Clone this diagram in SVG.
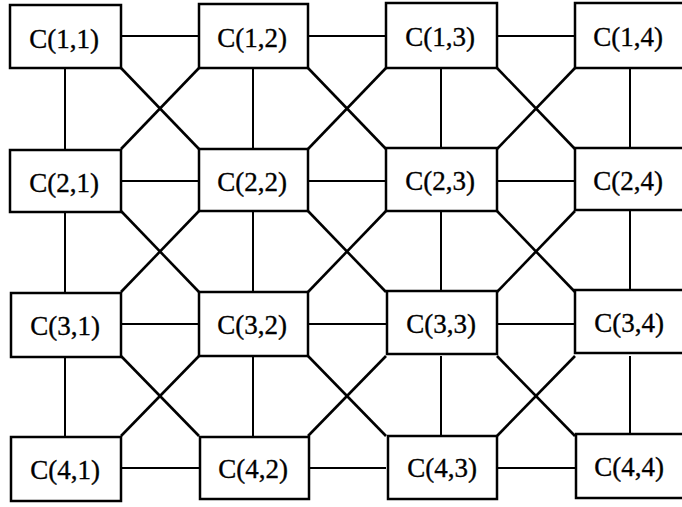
<svg xmlns="http://www.w3.org/2000/svg" width="682" height="507" viewBox="0 0 682 507">
<style>
rect{fill:#fff;stroke:#000;stroke-width:2.5}
text{font-family:"Liberation Serif","Times New Roman",serif;font-size:27px;fill:#000;stroke:#000;stroke-width:0.35;text-anchor:middle}
#connectors line{stroke:#000;stroke-width:2.6}
#connectors .hv{stroke-width:2}
</style>
<rect x="0" y="0" width="682" height="507" style="fill:#fff;stroke:none"/>
<g id="connectors">
<line class="hv" x1="121" y1="36" x2="199" y2="36"/>
<line class="hv" x1="308" y1="36" x2="386" y2="36"/>
<line class="hv" x1="497" y1="36" x2="575" y2="36"/>
<line class="hv" x1="121" y1="181" x2="199" y2="181"/>
<line class="hv" x1="308" y1="181" x2="386" y2="181"/>
<line class="hv" x1="497" y1="181" x2="575" y2="181"/>
<line class="hv" x1="121" y1="324" x2="199" y2="324"/>
<line class="hv" x1="308" y1="324" x2="386" y2="324"/>
<line class="hv" x1="497" y1="324" x2="575" y2="324"/>
<line class="hv" x1="121" y1="468" x2="199" y2="468"/>
<line class="hv" x1="308" y1="468" x2="386" y2="468"/>
<line class="hv" x1="497" y1="468" x2="575" y2="468"/>
<line class="hv" x1="65" y1="68" x2="65" y2="149"/>
<line class="hv" x1="253" y1="68" x2="253" y2="149"/>
<line class="hv" x1="441" y1="68" x2="441" y2="149"/>
<line class="hv" x1="630" y1="68" x2="630" y2="149"/>
<line class="hv" x1="65" y1="211" x2="65" y2="292"/>
<line class="hv" x1="253" y1="211" x2="253" y2="292"/>
<line class="hv" x1="441" y1="211" x2="441" y2="292"/>
<line class="hv" x1="630" y1="211" x2="630" y2="292"/>
<line class="hv" x1="65" y1="356" x2="65" y2="436"/>
<line class="hv" x1="253" y1="356" x2="253" y2="436"/>
<line class="hv" x1="441" y1="356" x2="441" y2="436"/>
<line class="hv" x1="630" y1="356" x2="630" y2="436"/>
<line x1="121" y1="68" x2="199" y2="149"/>
<line x1="199" y1="68" x2="121" y2="149"/>
<line x1="308" y1="68" x2="386" y2="149"/>
<line x1="386" y1="68" x2="308" y2="149"/>
<line x1="497" y1="68" x2="575" y2="149"/>
<line x1="575" y1="68" x2="497" y2="149"/>
<line x1="121" y1="211" x2="199" y2="292"/>
<line x1="199" y1="211" x2="121" y2="292"/>
<line x1="308" y1="211" x2="386" y2="292"/>
<line x1="386" y1="211" x2="308" y2="292"/>
<line x1="497" y1="211" x2="575" y2="292"/>
<line x1="575" y1="211" x2="497" y2="292"/>
<line x1="121" y1="356" x2="199" y2="436"/>
<line x1="199" y1="356" x2="121" y2="436"/>
<line x1="308" y1="356" x2="386" y2="436"/>
<line x1="386" y1="356" x2="308" y2="436"/>
<line x1="497" y1="356" x2="575" y2="436"/>
<line x1="575" y1="356" x2="497" y2="436"/>
</g>
<g id="C11"><rect x="10" y="5" width="111" height="63"/><text x="64" y="48">C(1,1)</text></g>
<g id="C12"><rect x="199" y="4" width="109" height="64"/><text x="252" y="47">C(1,2)</text></g>
<g id="C13"><rect x="386" y="3" width="111" height="65"/><text x="440" y="46">C(1,3)</text></g>
<g id="C14"><rect x="575" y="3" width="115" height="65"/><text x="628" y="46">C(1,4)</text></g>
<g id="C21"><rect x="10" y="150" width="111" height="62"/><text x="64" y="192">C(2,1)</text></g>
<g id="C22"><rect x="199" y="149" width="109" height="62"/><text x="252" y="191">C(2,2)</text></g>
<g id="C23"><rect x="386" y="148" width="111" height="63"/><text x="440" y="190">C(2,3)</text></g>
<g id="C24"><rect x="575" y="148" width="115" height="62"/><text x="628" y="190">C(2,4)</text></g>
<g id="C31"><rect x="11" y="293" width="110" height="64"/><text x="65" y="335">C(3,1)</text></g>
<g id="C32"><rect x="199" y="292" width="109" height="64"/><text x="252" y="334">C(3,2)</text></g>
<g id="C33"><rect x="387" y="291" width="110" height="63"/><text x="441" y="333">C(3,3)</text></g>
<g id="C34"><rect x="575" y="290" width="115" height="63"/><text x="629" y="332">C(3,4)</text></g>
<g id="C41"><rect x="11" y="437" width="110" height="64"/><text x="65" y="479">C(4,1)</text></g>
<g id="C42"><rect x="200" y="437" width="109" height="62"/><text x="253" y="478">C(4,2)</text></g>
<g id="C43"><rect x="388" y="436" width="109" height="63"/><text x="442" y="477">C(4,3)</text></g>
<g id="C44"><rect x="576" y="434" width="114" height="64"/><text x="629" y="476">C(4,4)</text></g>
</svg>
